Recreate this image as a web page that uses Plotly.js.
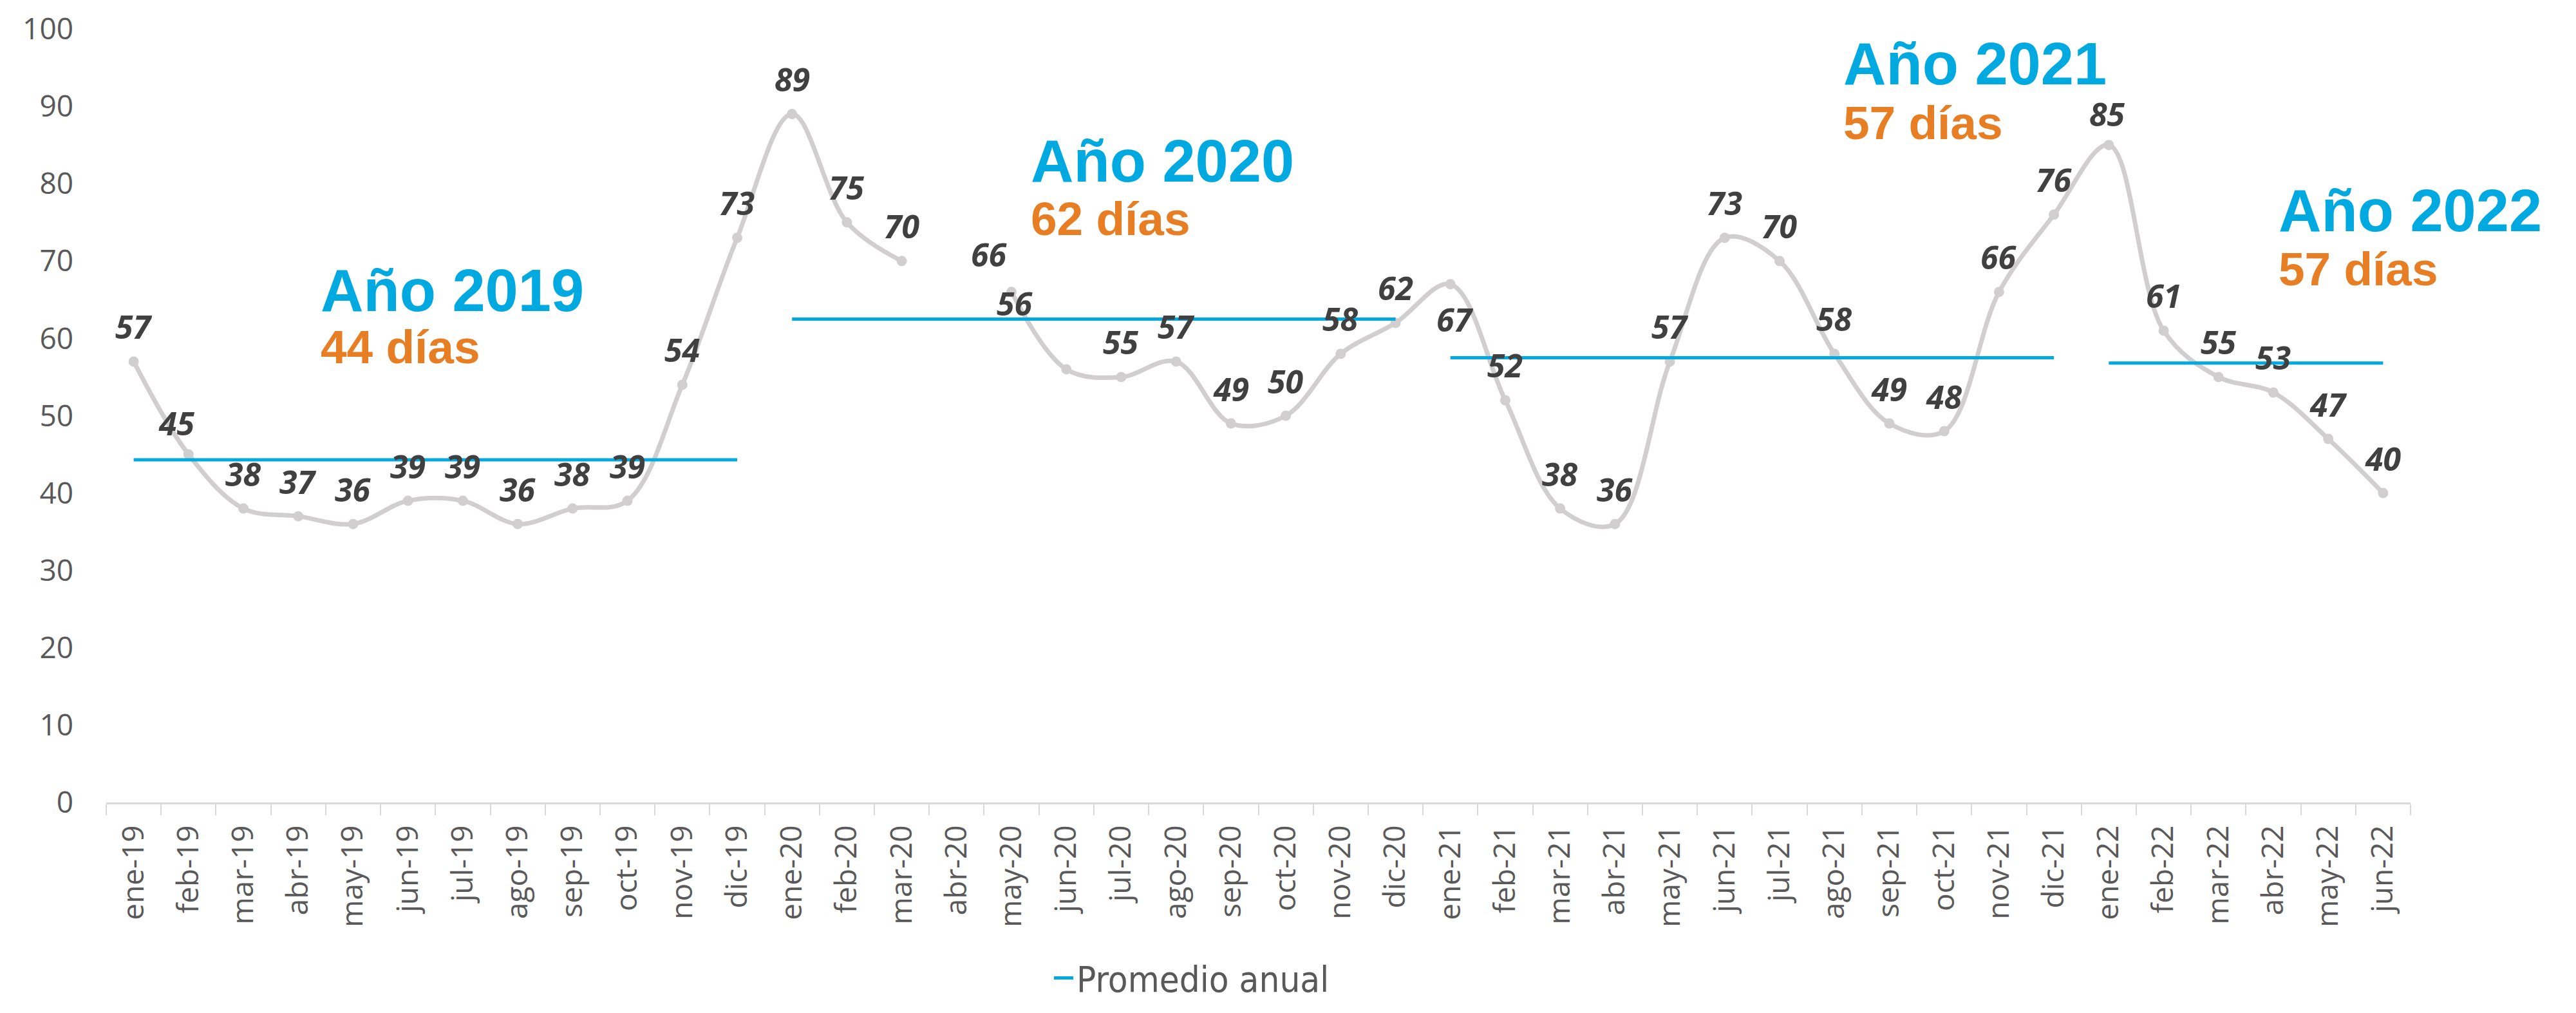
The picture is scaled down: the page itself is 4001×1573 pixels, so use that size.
<!DOCTYPE html>
<html>
<head>
<meta charset="utf-8">
<script src="https://cdn.plot.ly/plotly-3.0.1.min.js"></script>
<style>
html,body{margin:0;padding:0;background:#fff;}
#chart{width:4001px;height:1573px;}
.legendtext{font-stretch:condensed;}
</style>
</head>
<body>
<div id="chart"></div>
<script>
// ---------- DATA ----------
const months = ['ene-19','feb-19','mar-19','abr-19','may-19','jun-19','jul-19','ago-19','sep-19','oct-19','nov-19','dic-19',
  'ene-20','feb-20','mar-20','abr-20','may-20','jun-20','jul-20','ago-20','sep-20','oct-20','nov-20','dic-20',
  'ene-21','feb-21','mar-21','abr-21','may-21','jun-21','jul-21','ago-21','sep-21','oct-21','nov-21','dic-21',
  'ene-22','feb-22','mar-22','abr-22','may-22','jun-22'];
const dias = [57,45,38,37,36,39,39,36,38,39,54,73,
  89,75,70,null,66,56,55,57,49,50,58,62,
  67,52,38,36,57,73,70,58,49,48,66,76,
  85,61,55,53,47,40];
const yearStart = ['ene-19','ene-20','ene-21','ene-22'];
const yearEnd   = ['dic-19','dic-20','dic-21','jun-22'];
const promedio  = [44.3, 62.5, 57.5, 56.8];
const yearTitles = ['Año 2019','Año 2020','Año 2021','Año 2022'];
const yearDays   = ['44 días','62 días','57 días','57 días'];
const yTicks = [0,10,20,30,40,50,60,70,80,90,100];
const legendName = 'Promedio anual';

// ---------- LAYOUT GEOMETRY ----------
const FIG_W = 4001, FIG_H = 1573;
const L = 165, R = 257, T = 45, B = 303;
const PW = FIG_W - L - R, PH = FIG_H - T - B;
const pxX = x => (x - L) / PW;
const pxY = y => (FIG_H - B - y) / PH;

// label placement tweaks (pixel shifts, default is above the point)
const labelShift = {
  'feb-19': [-18, 49],
  'may-20': [-35, 58],
  'jun-20': [-80, 102],
  'ene-21': [7, -55],
  'ene-22': [-2, 48]
};
// title block positions (pixel left, pixel centre of title, pixel centre of days)
const titlePos = [[497, 459, 548],[1600, 254, 345],[2862, 100, 193],[3538, 333, 425]];

// ---------- TRACES ----------
const gray = '#D0CECE', blue = '#00A9E0', orange = '#E87E24';
const mainTrace = {
  type: 'scatter', mode: 'lines+markers', x: months, y: dias,
  line: {color: gray, width: 7, shape: 'spline', smoothing: 1},
  marker: {color: gray, size: 16},
  connectgaps: false, showlegend: false, hoverinfo: 'skip'
};
const ax = [], ay = [];
for (let i = 0; i < yearStart.length; i++) {
  ax.push(yearStart[i], yearEnd[i], yearEnd[i]);
  ay.push(promedio[i], promedio[i], null);
}
const avgTrace = {
  type: 'scatter', mode: 'lines', x: ax, y: ay, name: legendName,
  line: {color: blue, width: 5}, connectgaps: false, showlegend: true
};

// ---------- ANNOTATIONS ----------
const annotations = [];
months.forEach((m, i) => {
  if (dias[i] === null) return;
  const s = labelShift[m] || [0, 54];
  annotations.push({
    x: m, y: dias[i], xref: 'x', yref: 'y', text: String(dias[i]), showarrow: false,
    xanchor: 'center', yanchor: 'middle', xshift: s[0], yshift: s[1],
    font: {family: 'Open Sans', size: 50, color: '#404040', weight: 'bold', style: 'italic'}
  });
});
yearTitles.forEach((t, i) => {
  const p = titlePos[i];
  annotations.push({
    x: pxX(p[0]), y: pxY(p[1]), xref: 'paper', yref: 'paper', text: t, showarrow: false,
    xanchor: 'left', yanchor: 'middle', borderpad: 0,
    font: {family: 'Liberation Sans', size: 92, color: blue, weight: 'bold'}
  });
  annotations.push({
    x: pxX(p[0]), y: pxY(p[2]), xref: 'paper', yref: 'paper', text: yearDays[i], showarrow: false,
    xanchor: 'left', yanchor: 'middle', borderpad: 0,
    font: {family: 'Liberation Sans', size: 73, color: orange, weight: 'bold'}
  });
});

const layout = {
  width: FIG_W, height: FIG_H,
  margin: {l: L, r: R, t: T, b: B, pad: 0},
  paper_bgcolor: '#fff', plot_bgcolor: '#fff',
  xaxis: {
    type: 'category', categoryorder: 'array', categoryarray: months,
    range: [-0.5, months.length - 0.5],
    showgrid: false, zeroline: false,
    showline: true, linecolor: '#D9D9D9', linewidth: 3,
    ticks: 'outside', tickson: 'boundaries', ticklen: 17, tickwidth: 2, tickcolor: '#D9D9D9',
    tickangle: -90, ticklabelstandoff: 14,
    tickfont: {family: 'Open Sans', size: 46, color: '#595959'}
  },
  yaxis: {
    range: [0, 100], tickmode: 'array', tickvals: yTicks, ticktext: yTicks.map(String),
    showgrid: false, zeroline: false, showline: false, ticks: '',
    ticklabelstandoff: 50,
    tickfont: {family: 'Open Sans', size: 46, color: '#595959'}
  },
  showlegend: true,
  legend: {
    orientation: 'h', x: pxX(1632), y: pxY(1548), xanchor: 'left', yanchor: 'middle',
    font: {family: 'DejaVu Sans Condensed, Liberation Sans Narrow, Open Sans, sans-serif', size: 56, color: '#595959'},
    bgcolor: 'rgba(0,0,0,0)'
  },
  annotations: annotations
};

Plotly.newPlot('chart', [mainTrace, avgTrace], layout, {staticPlot: true, displayModeBar: false});
</script>
</body>
</html>
